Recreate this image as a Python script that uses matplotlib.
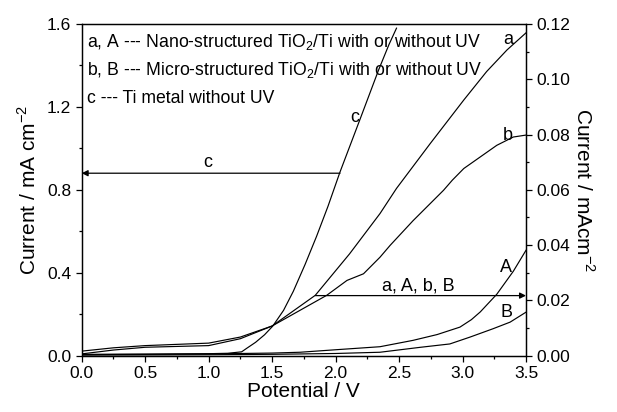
import matplotlib
matplotlib.use("Agg")
import matplotlib.pyplot as plt
from matplotlib.ticker import MultipleLocator, FormatStrFormatter

plt.rcParams['font.family'] = ['Liberation Sans', 'DejaVu Sans']
plt.rcParams['mathtext.fontset'] = 'custom'
plt.rcParams['mathtext.rm'] = 'Liberation Sans'

# curve c : Ti metal without UV (left axis, mA cm-2)
V_c = [0, 0.25, 0.5, 0.75, 1.0, 1.15, 1.26, 1.30, 1.37, 1.44, 1.505, 1.59, 1.667,
       1.76, 1.85, 1.94, 2.035, 2.19, 2.34, 2.42, 2.48]
I_c = [0.005, 0.006, 0.007, 0.008, 0.009, 0.011, 0.018, 0.035, 0.064, 0.10, 0.142,
       0.218, 0.31, 0.44, 0.575, 0.72, 0.886, 1.136, 1.38, 1.50, 1.58]

# curves a, b, A, B (right axis)
V_a = [0, 0.25, 0.5, 1.0, 1.25, 1.5, 1.84, 2.11, 2.35, 2.48, 2.745, 3.01, 3.19, 3.35, 3.5]
I_a = [0.0016, 0.0028, 0.0036, 0.0045, 0.0067, 0.0107, 0.0218, 0.0368, 0.0514,
       0.0605, 0.0767, 0.0925, 0.1028, 0.1106, 0.1168]

V_b = [0, 0.25, 0.5, 1.0, 1.25, 1.5, 1.93, 2.09, 2.22, 2.35, 2.43, 2.61, 2.85,
       2.92, 3.01, 3.14, 3.27, 3.40, 3.5]
I_b = [0.0006, 0.002, 0.003, 0.0036, 0.0061, 0.0107, 0.0218, 0.0272, 0.0296,
       0.0356, 0.0399, 0.0488, 0.0598, 0.0635, 0.0677, 0.0719, 0.0761, 0.0791, 0.0798]

V_A = [0, 0.5, 1.0, 1.5, 1.72, 2.0, 2.35, 2.61, 2.8, 2.98, 3.07, 3.14, 3.27, 3.40, 3.5]
I_A = [0.0004, 0.00045, 0.0006, 0.0009, 0.0012, 0.0021, 0.0032, 0.0055, 0.0076,
       0.0103, 0.013, 0.0158, 0.0222, 0.0305, 0.0381]

V_B = [0, 1.0, 1.5, 2.0, 2.35, 2.67, 2.90, 3.06, 3.24, 3.375, 3.5]
I_B = [0.00015, 0.0003, 0.00045, 0.00075, 0.0012, 0.003, 0.0042, 0.0067, 0.0097,
       0.0121, 0.0157]

legend_lines = [r"a, A --- Nano-structured TiO$_2$/Ti with or without UV",
                r"b, B --- Micro-structured TiO$_2$/Ti with or without UV",
                "c --- Ti metal without UV"]

fig = plt.figure(figsize=(6.17, 4.12), dpi=100)
ax = fig.add_axes([0.1324, 0.137, 0.7201, 0.8047])
ax2 = ax.twinx()

lw = 0.85
ax.plot(V_c, I_c, color="black", lw=lw)
for V, I in [(V_a, I_a), (V_b, I_b), (V_A, I_A), (V_B, I_B)]:
    ax2.plot(V, I, color="black", lw=lw)

ax.set_xlim(0, 3.5)
ax.set_ylim(0, 1.6)
ax2.set_ylim(0, 0.12)

ax.xaxis.set_major_locator(MultipleLocator(0.5))
ax.xaxis.set_minor_locator(MultipleLocator(0.25))
ax.yaxis.set_major_locator(MultipleLocator(0.4))
ax.yaxis.set_minor_locator(MultipleLocator(0.2))
ax2.yaxis.set_major_locator(MultipleLocator(0.02))
ax2.yaxis.set_minor_locator(MultipleLocator(0.01))
ax.xaxis.set_major_formatter(FormatStrFormatter("%.1f"))
ax.yaxis.set_major_formatter(FormatStrFormatter("%.1f"))
ax2.yaxis.set_major_formatter(FormatStrFormatter("%.2f"))

for a in (ax, ax2):
    a.tick_params(which="major", direction="out", length=4, width=0.9, labelsize=12.5)
    a.tick_params(which="minor", direction="out", length=2.3, width=0.9)
    for s in a.spines.values():
        s.set_linewidth(0.9)
ax.tick_params(top=False, right=False)

ax.set_xlabel("Potential / V", fontsize=15, labelpad=1)
ax.set_ylabel(r"Current / mA cm$^{-2}$", fontsize=15, labelpad=5)
ax2.set_ylabel(r"Current / mAcm$^{-2}$", fontsize=15, rotation=270, labelpad=18)

# legend-like text block
for i, t in enumerate(legend_lines):
    ax.text(0.012, 0.946 - i * 0.085, t, transform=ax.transAxes,
            fontsize=12.7, va="center", ha="left")

# curve labels
ax.text(3.36, 1.523, "a", fontsize=13, ha="center", va="center")
ax.text(3.36, 1.064, "b", fontsize=13, ha="center", va="center")
ax.text(3.34, 0.427, "A", fontsize=13, ha="center", va="center")
ax.text(3.35, 0.209, "B", fontsize=13, ha="center", va="center")
ax.text(2.15, 1.15, "c", fontsize=13, ha="center", va="center")

# arrows pointing to the relevant axes
ax.annotate("", xy=(0, 0.88), xytext=(2.035, 0.88),
            arrowprops=dict(arrowstyle="-|>", color="black", lw=0.9,
                            mutation_scale=9, shrinkA=0, shrinkB=0))
ax.text(0.99, 0.93, "c", fontsize=13, ha="center", va="center")

ax2.annotate("", xy=(3.5, 0.0217), xytext=(1.84, 0.0217),
             arrowprops=dict(arrowstyle="-|>", color="black", lw=0.9,
                             mutation_scale=9, shrinkA=0, shrinkB=0))
ax.text(2.65, 0.338, "a, A, b, B", fontsize=13, ha="center", va="center")

fig.savefig("out.png", dpi=100)
